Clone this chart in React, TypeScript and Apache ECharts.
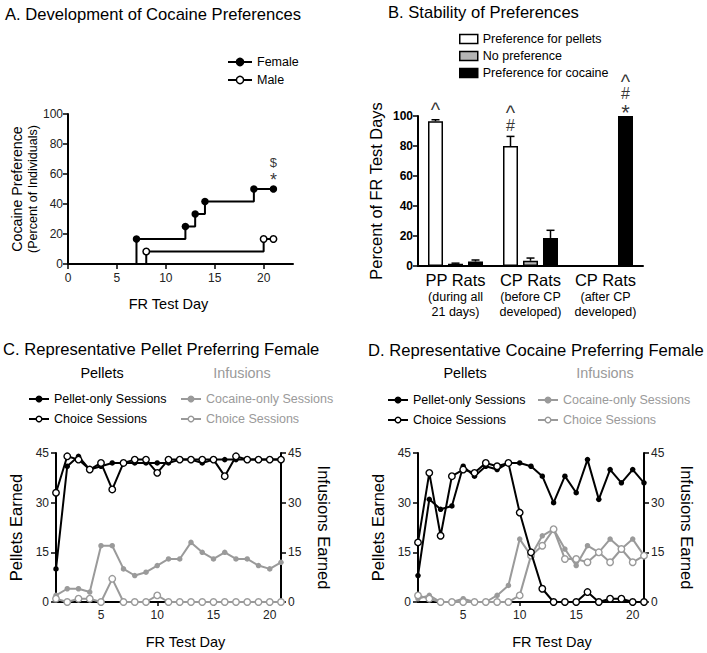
import React, { useEffect, useRef } from 'react';
import * as echarts from 'echarts';

const FONT = '"Liberation Sans", Arial, Helvetica, sans-serif';
const GRAY = '#9a9a9a';

// ---------- Panel A: Development of Cocaine Preferences ----------
const femaleDays = [7, 7, 12, 13, 14, 19, 21];
const femalePct = [0, 16.67, 25, 33.33, 41.67, 50, 50];
const maleDays = [8, 8, 20, 21];
const malePct = [0, 8.33, 16.67, 16.67];
const aXTicks = [0, 5, 10, 15, 20];
const aMarkX = [21, 21];
const aMarkY = [68, 56];
const aMarkText = ['$', '*'];

// ---------- Panel B: Stability of Preferences ----------
const bCategories = ['PP Rats all', 'CP Rats before', 'CP Rats after'];
const bCatTitles = ['PP Rats', 'CP Rats', 'CP Rats'];
const bCatSub1 = ['(during all', '(before CP', '(after CP'];
const bCatSub2 = ['21 days)', 'developed)', 'developed)'];
const bPellets = [96.5, 80, 0];
const bPelletsErr = [1, 6.4, 0];
const bNoPref = [1.5, 3.5, 0];
const bNoPrefErr = [0.4, 1.8, 0];
const bCocaine = [3, 18.7, 100];
const bCocaineErr = [1, 5.1, 0];
const bMarkCat = [0, 1, 1, 2, 2, 2];
const bMarkBar = [0, 0, 0, 2, 2, 2];
const bMarkText = ['^', '^', '#', '^', '#', '*'];
const bMarkY = [103.7, 101.7, 94, 122.7, 114.7, 102.3];

// ---------- Panels C & D ----------
const days = [1, 2, 3, 4, 5, 6, 7, 8, 9, 10, 11, 12, 13, 14, 15, 16, 17, 18, 19, 20, 21];
const cdXTicks = [5, 10, 15, 20];
const cPelletOnly = [10, 41, 44, 40, 41, 42, 42, 42, 42, 42, 42, 43, 43, 42, 43, 43, 43, 43, 43, 43, 43];
const cChoicePellets = [33, 44, 43, 40, 42, 34, 42, 43, 43, 39, 43, 43, 43, 43, 43, 38, 44, 43, 43, 43, 43];
const cCocaineOnly = [2, 4, 4, 3, 17, 17, 10, 8, 9, 11, 13, 13, 18, 15, 13, 15, 13, 13, 11, 10, 12];
const cChoiceInfusions = [1, 0, 1, 1, 0, 7, 0, 0, 0, 2, 0, 0, 0, 0, 0, 0, 0, 0, 0, 0, 0];
const dPelletOnly = [8, 31, 28, 29, 41, 38, 41, 40, 42, 42, 41, 38, 30, 38, 33, 43, 31, 40, 36, 40, 36];
const dChoicePellets = [18, 39, 20, 38, 40, 39, 42, 41, 42, 27, 15, 4, 0, 0, 0, 3, 0, 1, 1, 0, 0];
const dCocaineOnly = [1, 2, 0, 0, 1, 0, 0, 2, 5, 19, 14, 20, 22, 16, 11, 17, 15, 19, 16, 19, 14];
const dChoiceInfusions = [2, 1, 0, 0, 0, 0, 0, 0, 0, 2, 14, 17, 22, 13, 13, 12, 15, 12, 16, 12, 14];

const barOffsets = [-20, 0, 20];
const markFont: Record<string, number> = { '^': 20, '#': 16, '*': 22, '$': 13 };

const axisLine = { show: true, onZero: false, lineStyle: { color: '#000', width: 2 } };
const axisTick = { show: true, inside: false, length: 5, lineStyle: { color: '#000', width: 1.5 } };
const tickLabel = { color: '#222', fontSize: 12, fontFamily: FONT };
const legendFmt = (n: string) => n.split('|')[1];

function trace(name: string, xi: number, yi: number, vals: number[], color: string, filled: boolean, z: number) {
  return {
    type: 'line', name, xAxisIndex: xi, yAxisIndex: yi, z, clip: false,
    data: days.map((d, i) => [d, vals[i]]),
    symbol: 'circle', symbolSize: filled ? 5.5 : 6.5, showSymbol: true,
    lineStyle: { color, width: 2 },
    itemStyle: { color: filled ? color : '#fff', borderColor: color, borderWidth: filled ? 0 : 1.4 },
    emphasis: { disabled: true },
  };
}

function errSeries(vals: number[], errs: number[], k: number) {
  return {
    type: 'custom', xAxisIndex: 1, yAxisIndex: 1, z: 6, silent: true, clip: false,
    data: vals.map((v, i) => [i, v, errs[i]]),
    encode: { x: 0, y: 1 },
    renderItem: (_p: any, api: any) => {
      const e = api.value(2);
      if (!e) return null;
      const i = api.value(0);
      const v = api.value(1);
      const p0 = api.coord([i, v]);
      const p1 = api.coord([i, v + e]);
      const x = p0[0] + barOffsets[k];
      return {
        type: 'group',
        children: [
          { type: 'line', shape: { x1: x, y1: p0[1], x2: x, y2: p1[1] }, style: { stroke: '#000', lineWidth: 1.5 } },
          { type: 'line', shape: { x1: x - 4, y1: p1[1], x2: x + 4, y2: p1[1] }, style: { stroke: '#000', lineWidth: 1.5 } },
        ],
      };
    },
  };
}

function cdAxes(gi: number, padLeft: number) {
  const x = {
    type: 'value', gridIndex: gi, min: 1, max: 21,
    name: 'FR Test Day', nameLocation: 'middle', nameGap: 32, nameMoveOverlap: false,
    nameTextStyle: { fontSize: 14.5, color: '#000', fontFamily: FONT, padding: [0, 0, 0, padLeft] },
    axisLine, axisTick: { ...axisTick, length: 4, customValues: cdXTicks },
    axisLabel: { ...tickLabel, margin: 7, customValues: cdXTicks },
    splitLine: { show: false },
  };
  const yl = {
    type: 'value', gridIndex: gi, min: 0, max: 45, interval: 15, position: 'left',
    name: 'Pellets Earned', nameLocation: 'middle', nameRotate: 90, nameGap: 32, nameMoveOverlap: false,
    nameTextStyle: { fontSize: 16.5, color: '#000', fontFamily: FONT },
    axisLine, axisTick: { ...axisTick, length: 5 }, axisLabel: { ...tickLabel, margin: 7 },
    splitLine: { show: false },
  };
  const yr = {
    type: 'value', gridIndex: gi, min: 0, max: 45, interval: 15, position: 'right',
    name: 'Infusions Earned', nameLocation: 'middle', nameRotate: -90, nameGap: 34, nameMoveOverlap: false,
    nameTextStyle: { fontSize: 16.5, color: '#000', fontFamily: FONT },
    axisLine, axisTick: { ...axisTick, length: 5 }, axisLabel: { ...tickLabel, margin: 7 },
    splitLine: { show: false },
  };
  return { x, yl, yr };
}

function legend(left: number, top: number, names: string[], color: string) {
  return {
    left, top, padding: 0, orient: 'vertical', itemWidth: 20, itemHeight: 7, itemGap: 7,
    selectedMode: false, data: names, formatter: legendFmt,
    textStyle: { fontSize: 12.5, color, fontFamily: FONT },
    itemStyle: { borderWidth: 1.4 }, lineStyle: { width: 2 },
  };
}

function txt(x: number, y: number, text: string, size: number, color = '#000', align = 'left') {
  return {
    type: 'text', x, y, silent: true,
    style: {
      text, fontSize: size, fontFamily: FONT, fill: color,
      textAlign: align, align, textVerticalAlign: 'middle', verticalAlign: 'middle',
    },
  };
}

function buildOption() {
  const c = cdAxes(2, 34);
  const d = cdAxes(3, 42);
  return {
    animation: false,
    backgroundColor: '#fff',
    graphic: [
      txt(5, 14, 'A. Development of Cocaine Preferences', 16.6),
      txt(388, 12, 'B. Stability of Preferences', 16.6),
      txt(3, 349, 'C. Representative Pellet Preferring Female', 16.6),
      txt(368, 350, 'D. Representative Cocaine Preferring Female', 16.6),
      txt(102, 373, 'Pellets', 14.4, '#000', 'center'),
      txt(242, 373, 'Infusions', 14.4, GRAY, 'center'),
      txt(465, 373, 'Pellets', 14.4, '#000', 'center'),
      txt(605, 373, 'Infusions', 14.4, GRAY, 'center'),
    ],
    grid: [
      { left: 68, top: 114, width: 225, height: 150 },
      { left: 418, top: 116, width: 225, height: 150 },
      { left: 56, top: 453, width: 225, height: 149 },
      { left: 418, top: 453, width: 226, height: 149 },
    ],
    legend: [
      {
        left: 227, top: 55.5, padding: 0, orient: 'vertical', itemWidth: 24, itemHeight: 9, itemGap: 5,
        selectedMode: false, data: ['A|Female', 'A|Male'], formatter: legendFmt,
        textStyle: { fontSize: 12.5, color: '#000', fontFamily: FONT },
        itemStyle: { borderWidth: 1.5 }, lineStyle: { width: 2 },
      },
      {
        left: 459, top: 32.5, padding: 0, orient: 'vertical', itemWidth: 18, itemHeight: 9, itemGap: 4,
        selectedMode: false, icon: 'rect',
        data: ['B|Preference for pellets', 'B|No preference', 'B|Preference for cocaine'], formatter: legendFmt,
        textStyle: { fontSize: 12.5, color: '#000', fontFamily: FONT },
        itemStyle: { borderWidth: 1.5, borderColor: '#000' },
      },
      legend(28, 392.5, ['C|Pellet-only Sessions', 'C|Choice Sessions|p'], '#000'),
      legend(180, 392.5, ['C|Cocaine-only Sessions', 'C|Choice Sessions|i'], GRAY),
      legend(387, 393.5, ['D|Pellet-only Sessions', 'D|Choice Sessions|p'], '#000'),
      legend(537, 393.5, ['D|Cocaine-only Sessions', 'D|Choice Sessions|i'], GRAY),
    ],
    xAxis: [
      {
        type: 'value', gridIndex: 0, min: 0, max: 23,
        name: 'FR Test Day', nameLocation: 'middle', nameGap: 32, nameMoveOverlap: false,
        nameTextStyle: { fontSize: 14.5, color: '#000', fontFamily: FONT, padding: [0, 24, 0, 0] },
        axisLine, axisTick: { ...axisTick, customValues: aXTicks },
        axisLabel: { ...tickLabel, margin: 8, customValues: aXTicks },
        splitLine: { show: false },
      },
      {
        type: 'category', gridIndex: 1, data: bCategories,
        axisLine, axisTick: { show: false },
        axisLabel: {
          margin: 4, interval: 0, color: '#000', fontFamily: FONT,
          formatter: (_v: string, i: number) => `{a|${bCatTitles[i]}}\n{b|${bCatSub1[i]}}\n{b|${bCatSub2[i]}}`,
          rich: {
            a: { fontSize: 16.5, lineHeight: 19, color: '#000', fontFamily: FONT },
            b: { fontSize: 12.5, lineHeight: 15, color: '#000', fontFamily: FONT },
          },
        },
        splitLine: { show: false },
      },
      c.x,
      d.x,
    ],
    yAxis: [
      {
        type: 'value', gridIndex: 0, min: 0, max: 100, interval: 20,
        name: '{a|Cocaine Preference}\n{b|(Percent of Individuals)}',
        nameLocation: 'middle', nameRotate: 90, nameGap: 28, nameMoveOverlap: false,
        nameTextStyle: {
          fontFamily: FONT,
          rich: {
            a: { fontSize: 14.2, lineHeight: 17, color: '#000', fontFamily: FONT },
            b: { fontSize: 12.5, lineHeight: 15, color: '#000', fontFamily: FONT },
          },
        },
        axisLine, axisTick, axisLabel: { ...tickLabel, margin: 5 },
        splitLine: { show: false },
      },
      {
        type: 'value', gridIndex: 1, min: 0, max: 100, interval: 20,
        name: 'Percent of FR Test Days', nameLocation: 'middle', nameRotate: 90, nameGap: 34, nameMoveOverlap: false,
        nameTextStyle: { fontSize: 16.4, color: '#000', fontFamily: FONT },
        axisLine, axisTick, axisLabel: { ...tickLabel, color: '#000', fontWeight: 'bold', margin: 5 },
        splitLine: { show: false },
      },
      c.yl, c.yr, d.yl, d.yr,
    ],
    series: [
      // Panel A
      {
        type: 'line', name: 'A|Female', xAxisIndex: 0, yAxisIndex: 0, step: 'end', clip: false,
        data: femaleDays.map((x, i) => (i === 0 ? { value: [x, femalePct[i]], symbol: 'none' } : [x, femalePct[i]])),
        symbol: 'circle', symbolSize: 7.5,
        lineStyle: { color: '#000', width: 2 }, itemStyle: { color: '#000', borderColor: '#000', borderWidth: 0 },
        emphasis: { disabled: true },
      },
      {
        type: 'line', name: 'A|Male', xAxisIndex: 0, yAxisIndex: 0, step: 'end', clip: false,
        data: maleDays.map((x, i) => (i === 0 ? { value: [x, malePct[i]], symbol: 'none' } : [x, malePct[i]])),
        symbol: 'circle', symbolSize: 6.5,
        lineStyle: { color: '#000', width: 2 }, itemStyle: { color: '#fff', borderColor: '#000', borderWidth: 1.5 },
        emphasis: { disabled: true },
      },
      {
        type: 'scatter', xAxisIndex: 0, yAxisIndex: 0, clip: false, silent: true, z: 7,
        symbol: 'circle', symbolSize: 1, itemStyle: { color: 'rgba(0,0,0,0)' },
        data: aMarkX.map((x, i) => ({
          value: [x, aMarkY[i]],
          label: {
            show: true, position: 'inside', formatter: aMarkText[i], fontSize: aMarkText[i] === '*' ? 18 : 13,
            lineHeight: 12, color: '#000', fontFamily: FONT,
          },
        })),
      },
      // Panel B
      {
        type: 'bar', name: 'B|Preference for pellets', xAxisIndex: 1, yAxisIndex: 1, barWidth: 15, barGap: '33.3%',
        data: bPellets, itemStyle: { color: '#fff', borderColor: '#000', borderWidth: 1.5 }, emphasis: { disabled: true },
      },
      {
        type: 'bar', name: 'B|No preference', xAxisIndex: 1, yAxisIndex: 1, barWidth: 15, barGap: '33.3%',
        data: bNoPref, itemStyle: { color: '#b4b4b4', borderColor: '#000', borderWidth: 1.5 }, emphasis: { disabled: true },
      },
      {
        type: 'bar', name: 'B|Preference for cocaine', xAxisIndex: 1, yAxisIndex: 1, barWidth: 15, barGap: '33.3%',
        data: bCocaine, itemStyle: { color: '#000', borderColor: '#000', borderWidth: 1.5 }, emphasis: { disabled: true },
      },
      errSeries(bPellets, bPelletsErr, 0),
      errSeries(bNoPref, bNoPrefErr, 1),
      errSeries(bCocaine, bCocaineErr, 2),
      {
        type: 'scatter', xAxisIndex: 1, yAxisIndex: 1, clip: false, silent: true, z: 7,
        symbol: 'circle', symbolSize: 1, itemStyle: { color: 'rgba(0,0,0,0)' },
        data: bMarkCat.map((cat, i) => ({
          value: [cat, bMarkY[i]],
          label: {
            show: true, position: 'inside', formatter: bMarkText[i], fontSize: markFont[bMarkText[i]],
            lineHeight: 12, color: '#000', fontFamily: FONT, offset: [barOffsets[bMarkBar[i]], 0],
          },
        })),
      },
      // Panel C
      trace('C|Cocaine-only Sessions', 2, 3, cCocaineOnly, GRAY, true, 3),
      trace('C|Choice Sessions|i', 2, 3, cChoiceInfusions, GRAY, false, 4),
      trace('C|Pellet-only Sessions', 2, 2, cPelletOnly, '#000', true, 5),
      trace('C|Choice Sessions|p', 2, 2, cChoicePellets, '#000', false, 6),
      // Panel D
      trace('D|Cocaine-only Sessions', 3, 5, dCocaineOnly, GRAY, true, 3),
      trace('D|Choice Sessions|i', 3, 5, dChoiceInfusions, GRAY, false, 4),
      trace('D|Pellet-only Sessions', 3, 4, dPelletOnly, '#000', true, 5),
      trace('D|Choice Sessions|p', 3, 4, dChoicePellets, '#000', false, 6),
    ],
  };
}

export default function App() {
  const ref = useRef<HTMLDivElement>(null);
  useEffect(() => {
    if (!ref.current) return;
    const chart = echarts.init(ref.current, null, { renderer: 'svg' });
    chart.setOption(buildOption() as any);
    return () => chart.dispose();
  }, []);
  return (
    <div
      ref={ref}
      style={{ position: 'fixed', left: 0, top: 0, width: 707, height: 653, background: '#fff' }}
    />
  );
}
